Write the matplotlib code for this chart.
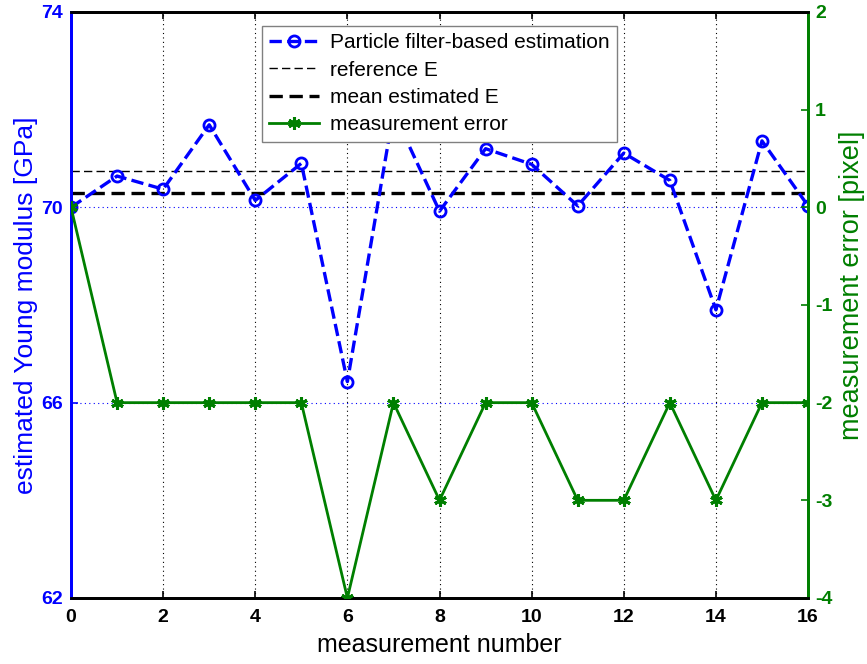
import matplotlib
matplotlib.use("Agg")
import matplotlib.pyplot as plt
import numpy as np

plt.rcParams['font.family'] = ['Liberation Sans', 'DejaVu Sans']
plt.rcParams['axes.unicode_minus'] = False

measurement = list(range(17))
estimate_E = [70.0, 70.64, 70.37, 71.69, 70.14, 70.90, 66.43, 71.95, 69.92,
              71.20, 70.88, 70.03, 71.11, 70.55, 67.90, 71.36, 70.03]
reference_E = 70.74
mean_E = 70.30
meas_error = [0, -2, -2, -2, -2, -2, -4, -2, -3, -2, -2, -3, -3, -2, -3, -2, -2]

x_ticks = list(range(0, 17, 2))
left_ticks = [62, 66, 70, 74]
right_ticks = [-4, -3, -2, -1, 0, 1, 2]

blue = '#0000ff'
green = '#007f00'

fig = plt.figure(figsize=(8.67, 6.64), dpi=100)
ax = fig.add_axes([0.0819, 0.0994, 0.8501, 0.8826])
ax2 = ax.twinx()

l1, = ax.plot(measurement, estimate_E, '--', color=blue, lw=2.4, marker='o',
              markersize=8, markerfacecolor='none', markeredgewidth=2,
              label='Particle filter-based estimation', zorder=3)
l2 = ax.axhline(reference_E, color='black', ls=(0, (6, 3)), lw=1.0, label='reference E', zorder=2)
l3 = ax.axhline(mean_E, color='black', ls=(0, (4, 2)), lw=2.4, label='mean estimated E', zorder=2)
l4, = ax2.plot(measurement, meas_error, '-', color=green, lw=2, marker=(6, 2, 0),
               markersize=9, markeredgewidth=2.2, label='measurement error', zorder=3)

ax.set_xlim(0, 16)
ax.set_ylim(62, 74)
ax2.set_ylim(-4, 2)
ax.set_xticks(x_ticks)
ax.set_yticks(left_ticks)
ax2.set_yticks(right_ticks)

for t in left_ticks[1:-1]:
    ax.axhline(t, color=blue, ls=(0, (1, 3)), lw=0.8, zorder=1)
for t in x_ticks[1:-1]:
    ax.axvline(t, color='black', ls=(0, (1, 3)), lw=0.8, zorder=1)

ax.tick_params(axis='x', direction='in', colors='black', labelsize=14, length=5, width=1.2,
               top=True, pad=8)
ax.tick_params(axis='y', direction='in', colors=blue, labelsize=14, length=5, width=1.2, pad=6)
ax2.tick_params(axis='y', direction='in', colors=green, labelsize=14, length=5, width=1.2, pad=5)
for lab in ax.get_xticklabels() + ax.get_yticklabels() + ax2.get_yticklabels():
    lab.set_fontweight('bold')

for a in (ax, ax2):
    a.spines['left'].set_color(blue)
    a.spines['right'].set_color(green)
    a.spines['top'].set_color('black')
    a.spines['bottom'].set_color('black')
    for s in a.spines.values():
        s.set_linewidth(2)

ax.set_xlabel('measurement number', fontsize=18, labelpad=5)
ax.set_ylabel('estimated Young modulus [GPa]', fontsize=19, color=blue, labelpad=2)
ax2.set_ylabel('measurement error [pixel]', fontsize=19.5, color=green, labelpad=4)
ax2.yaxis.set_label_coords(1.042, 0.534)

leg = ax2.legend(handles=[l1, l2, l3, l4], loc='upper left', bbox_to_anchor=(0.259, 0.976),
                 borderaxespad=0, fontsize=15, fancybox=False, framealpha=1,
                 edgecolor='#808080', handlelength=2.4, labelspacing=0.4,
                 handletextpad=0.5, borderpad=0.35)
leg.get_frame().set_linewidth(1.0)
leg.set_zorder(10)

fig.savefig('out.png', dpi=100)
